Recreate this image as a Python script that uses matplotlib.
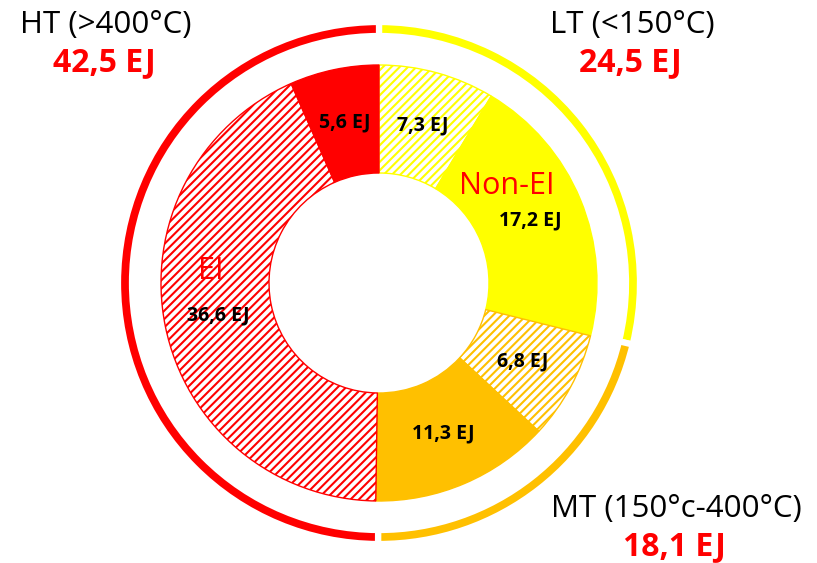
import numpy as np
import matplotlib
matplotlib.use('Agg')
import matplotlib.pyplot as plt

plt.rcParams['font.family'] = ['Open Sans', 'DejaVu Sans']
plt.rcParams['hatch.linewidth'] = 1.5

# Inner ring: heat demand per temperature band, split into EI (hatched) and Non-EI (solid)
segment_values = [7.3, 17.2, 6.8, 11.3, 36.6, 5.6]
segment_colors = ['#FFFF00', '#FFFF00', '#FFC000', '#FFC000', '#FF0000', '#FF0000']
segment_hatched = [True, False, True, False, True, False]
segment_labels = ['7,3 EJ', '17,2 EJ', '6,8 EJ', '11,3 EJ', '36,6 EJ', '5,6 EJ']

# Outer ring: totals per temperature band
band_names = ['LT (<150°C)', 'MT (150°c-400°C)', 'HT (>400°C)']
band_values = [24.5, 18.1, 42.5]
band_labels = ['24,5 EJ', '18,1 EJ', '42,5 EJ']
band_colors = ['#FFFF00', '#FFC000', '#FF0000']

W, H = 817, 563
fig = plt.figure(figsize=(W / 100, H / 100), dpi=100)
ax = fig.add_axes([0, 0, 1, 1])

cx, cy = 379, H - 283
r_inner = 218
ring_width = 108

wedges, texts = ax.pie(segment_values, radius=r_inner, center=(cx, cy),
                       startangle=90, counterclock=False,
                       labels=segment_labels, labeldistance=0.752,
                       wedgeprops=dict(width=ring_width, linewidth=1),
                       textprops=dict(fontsize=14, fontweight='bold', color='black'))
for w, col, hatched in zip(wedges, segment_colors, segment_hatched):
    w.set_edgecolor(col)
    if hatched:
        w.set_facecolor('white')
        w.set_hatch('////')
    else:
        w.set_facecolor(col)
for t in texts:
    t.set_horizontalalignment('center')
    t.set_verticalalignment('center')

# thin outer band ring, white edges give the small gaps between bands
r_outer = 261
ax.pie(band_values, radius=r_outer, center=(cx, cy), colors=band_colors,
       startangle=90, counterclock=False,
       wedgeprops=dict(width=14, edgecolor='white', linewidth=4.5))

ax.text(211, H - 271, 'EI', color='#FF0000', fontsize=22, ha='center', va='center')
ax.text(507, H - 186, 'Non-EI', color='#FF0000', fontsize=22, ha='center', va='center')

# band titles with totals underneath
title_pos = {'LT (<150°C)': (632, 25), 'MT (150°c-400°C)': (676, 509), 'HT (>400°C)': (106, 25)}
for name, lab in zip(band_names, band_labels):
    x, y = title_pos[name]
    ax.text(x, H - y, name, fontsize=22.5, color='black', ha='center', va='center')
    ax.text(x - 2, H - y - 38, lab, fontsize=23, fontweight='bold', color='#FF0000',
            ha='center', va='center')

ax.set_xlim(0, W)
ax.set_ylim(0, H)
ax.set_aspect('auto')
ax.axis('off')

fig.savefig('out.png', dpi=100, facecolor='white')
